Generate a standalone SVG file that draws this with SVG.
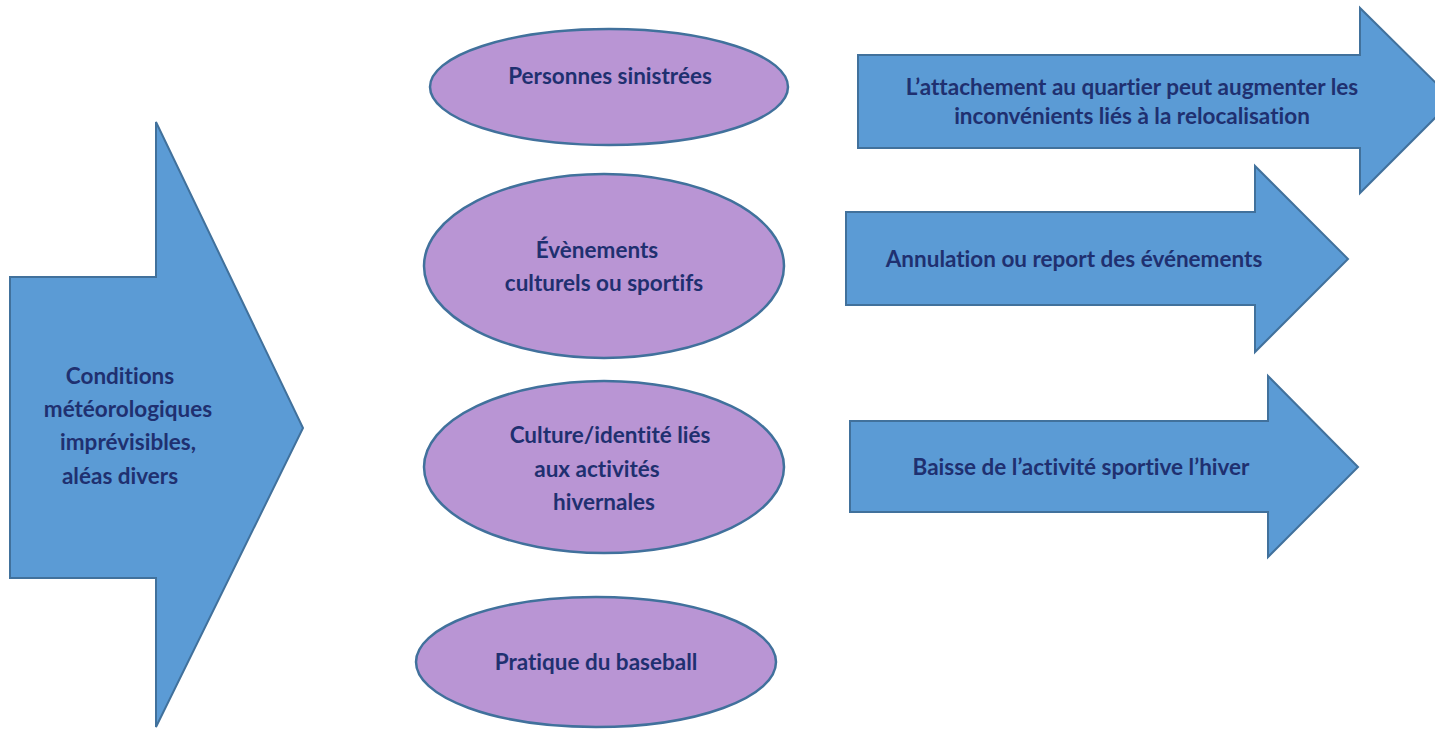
<svg xmlns="http://www.w3.org/2000/svg" width="1435" height="729" viewBox="0 0 1435 729">
<style>
.arrow{fill:#5b9bd5;stroke:#41719c;stroke-width:2;stroke-linejoin:miter}
.ell{fill:#b995d4;stroke:#41719c;stroke-width:2.5}
.t{font-family:Lato,"Liberation Sans",sans-serif;font-weight:bold;font-size:22.5px;fill:#1f3070;text-anchor:middle;font-variant-ligatures:none}
</style>
<rect width="1435" height="729" fill="#ffffff"/>
<g id="connectors"/>
<g id="left-arrow">
<polygon class="arrow" points="10,277 156,277 156,122 303,428 156,727 156,578 10,578"/>
<text class="t"><tspan x="120" y="384">Conditions</tspan><tspan x="128" y="417">météorologiques</tspan><tspan x="128" y="450">imprévisibles,</tspan><tspan x="120" y="484">aléas divers</tspan></text>
</g>
<g id="node-personnes">
<ellipse class="ell" cx="609" cy="87" rx="179" ry="58"/>
<text class="t" x="610" y="84">Personnes sinistrées</text>
</g>
<g id="node-evenements">
<ellipse class="ell" cx="604" cy="266" rx="180" ry="92"/>
<text class="t"><tspan x="597" y="258">Évènements</tspan><tspan x="604" y="291">culturels ou sportifs</tspan></text>
</g>
<g id="node-culture">
<ellipse class="ell" cx="604" cy="467" rx="180" ry="86"/>
<text class="t"><tspan x="610" y="443">Culture/identité liés</tspan><tspan x="597" y="477">aux activités</tspan><tspan x="604" y="510">hivernales</tspan></text>
</g>
<g id="node-baseball">
<ellipse class="ell" cx="596" cy="662" rx="180" ry="65"/>
<text class="t" x="596" y="670">Pratique du baseball</text>
</g>
<g id="arrow-attachement">
<polygon class="arrow" points="858,55 1360,55 1360,8 1453,100 1360,193 1360,148 858,148"/>
<text class="t"><tspan x="1132" y="95">L’attachement au quartier peut augmenter les</tspan><tspan x="1132" y="124">inconvénients liés à la relocalisation</tspan></text>
</g>
<g id="arrow-annulation">
<polygon class="arrow" points="846,212 1255,212 1255,166 1348,259 1255,352 1255,305 846,305"/>
<text class="t" x="1074" y="267">Annulation ou report des événements</text>
</g>
<g id="arrow-baisse">
<polygon class="arrow" points="850,421 1268,421 1268,376 1358,467 1268,557 1268,512 850,512"/>
<text class="t" x="1081" y="475">Baisse de l’activité sportive l’hiver</text>
</g>
</svg>
